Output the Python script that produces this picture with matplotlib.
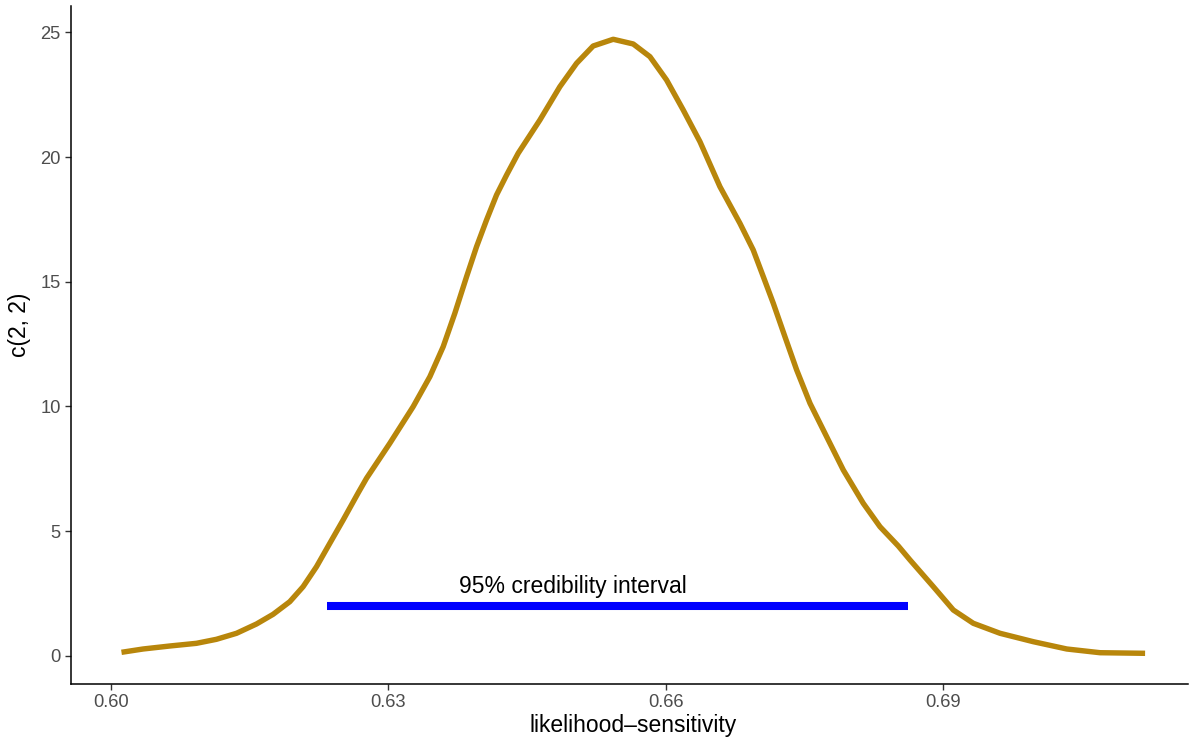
import matplotlib
matplotlib.use("Agg")
import matplotlib.pyplot as plt

# densidade (x, y)
dens_x = [0.60116, 0.60349, 0.60638, 0.60927, 0.61143, 0.61360, 0.61576,
          0.61756, 0.61936, 0.62080, 0.62225, 0.62369, 0.62513, 0.62675,
          0.62766, 0.63018, 0.63270, 0.63451, 0.63595, 0.63721, 0.63848,
          0.63956, 0.64064, 0.64172, 0.64281, 0.64406, 0.64641, 0.64857,
          0.65038, 0.65217, 0.65434, 0.65650, 0.65831, 0.66011, 0.66191,
          0.66372, 0.66588, 0.66804, 0.66948, 0.67057, 0.67165, 0.67291,
          0.67418, 0.67562, 0.67742, 0.67922, 0.68138, 0.68319, 0.68517,
          0.68644, 0.68896, 0.69112, 0.69328, 0.69617, 0.69977, 0.70339,
          0.70699, 0.71186]
dens_y = [0.136, 0.269, 0.389, 0.497, 0.658, 0.899, 1.272,
          1.661, 2.166, 2.768, 3.570, 4.509, 5.443, 6.526,
          7.116, 8.520, 9.988, 11.191, 12.395, 13.735, 15.203,
          16.406, 17.477, 18.480, 19.282, 20.152, 21.488, 22.824,
          23.763, 24.456, 24.725, 24.537, 24.027, 23.092, 21.889,
          20.618, 18.813, 17.345, 16.274, 15.203, 14.136, 12.796,
          11.460, 10.124, 8.785, 7.449, 6.113, 5.174, 4.400,
          3.839, 2.768, 1.833, 1.300, 0.899, 0.562, 0.269,
          0.120, 0.096]

# intervalo de credibilidade
ci_low, ci_high = 0.6234, 0.6862
ci_y = 2
ci_label = "95% credibility interval"

xticks = [0.60, 0.63, 0.66, 0.69]
yticks = [0, 5, 10, 15, 20, 25]

plt.rcParams['font.family'] = ['Liberation Sans', 'DejaVu Sans']

fig = plt.figure(figsize=(11.9, 7.4), dpi=100)
ax = fig.add_axes([71/1190, 56/740, 1117/1190, 678/740])

ax.plot(dens_x, dens_y, color='#B8860B', lw=3.9, solid_capstyle='butt',
        solid_joinstyle='round')
ax.plot([ci_low, ci_high], [ci_y, ci_y], color='#0000FF', lw=5.8,
        solid_capstyle='butt')
ax.text(0.650, 2.5, ci_label, ha='center', va='baseline', fontsize=16.5,
        color='black')

ax.set_xlim(0.5957, 0.7165)
ax.set_ylim(-1.135, 26.06)
ax.set_xticks(xticks)
ax.set_xticklabels(["%.2f" % v for v in xticks])
ax.set_yticks(yticks)

for s in ['top', 'right']:
    ax.spines[s].set_visible(False)
for s in ['left', 'bottom']:
    ax.spines[s].set_linewidth(1.1)
    ax.spines[s].set_color('black')

ax.tick_params(axis='both', length=4, width=1, color='#333333',
               labelcolor='#4D4D4D', labelsize=13.2, pad=3.5)

ax.set_xlabel('likelihood\u2013sensitivity', fontsize=16.5)
ax.set_ylabel('c(2, 2)', fontsize=16.5)
ax.xaxis.set_label_coords(0.5036, -0.044)
ax.yaxis.set_label_coords(-0.0358, 0.53)

fig.savefig('out.png', dpi=100)
